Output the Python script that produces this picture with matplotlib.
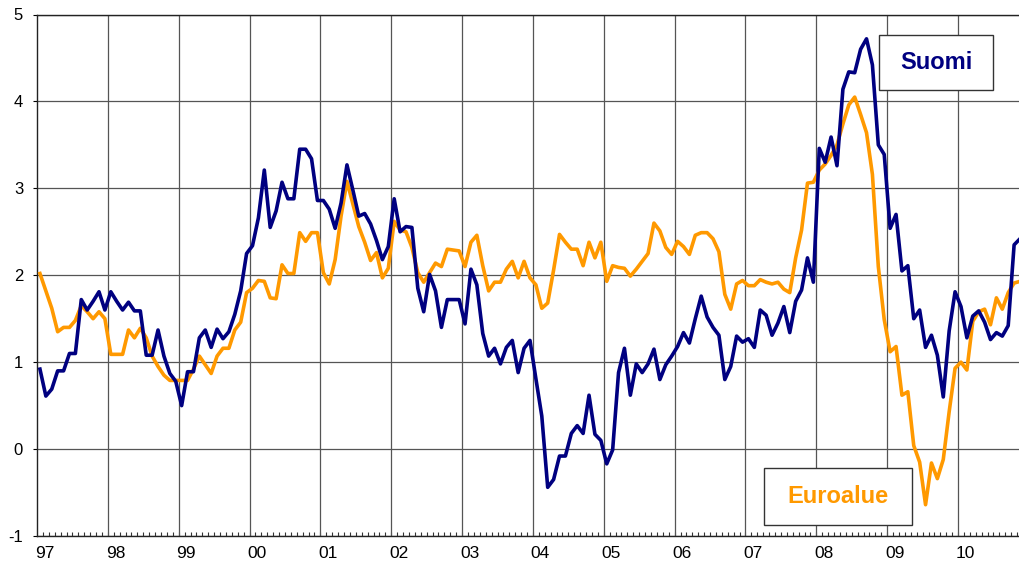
import matplotlib
matplotlib.use("Agg")
import matplotlib.pyplot as plt
import numpy as np
from matplotlib.patches import Rectangle

plt.rcParams["font.family"] = ["Liberation Sans", "DejaVu Sans"]
plt.rcParams["axes.unicode_minus"] = False

# monthly values, Jan 1997 ->
years = ["97", "98", "99", "00", "01", "02", "03", "04", "05", "06", "07", "08", "09", "10"]

suomi = [
    0.92, 0.61, 0.69, 0.90, 0.90, 1.10, 1.10, 1.72, 1.60, 1.70, 1.81, 1.60,
    1.81, 1.70, 1.60, 1.69, 1.59, 1.59, 1.08, 1.08, 1.37, 1.07, 0.87, 0.78,
    0.50, 0.89, 0.89, 1.28, 1.37, 1.17, 1.38, 1.27, 1.35, 1.55, 1.82, 2.25,
    2.34, 2.66, 3.21, 2.55, 2.74, 3.07, 2.88, 2.88, 3.45, 3.45, 3.34, 2.86,
    2.86, 2.76, 2.54, 2.83, 3.27, 2.98, 2.68, 2.71, 2.59, 2.40, 2.18, 2.33,
    2.88, 2.50, 2.56, 2.55, 1.85, 1.58, 2.01, 1.82, 1.40, 1.72, 1.72, 1.72,
    1.44, 2.07, 1.89, 1.33, 1.07, 1.16, 0.98, 1.17, 1.25, 0.88, 1.16, 1.25,
    0.81, 0.38, -0.44, -0.35, -0.08, -0.08, 0.18, 0.27, 0.18, 0.62, 0.17, 0.10,
    -0.17, -0.01, 0.88, 1.16, 0.62, 0.98, 0.88, 0.98, 1.15, 0.80, 0.97, 1.07,
    1.18, 1.34, 1.22, 1.50, 1.76, 1.52, 1.40, 1.31, 0.80, 0.95, 1.30, 1.23,
    1.27, 1.17, 1.60, 1.54, 1.31, 1.45, 1.64, 1.34, 1.70, 1.83, 2.20, 1.92,
    3.46, 3.30, 3.59, 3.26, 4.14, 4.34, 4.33, 4.60, 4.72, 4.42, 3.50, 3.39,
    2.54, 2.70, 2.05, 2.11, 1.50, 1.60, 1.17, 1.31, 1.08, 0.60, 1.36, 1.81,
    1.64, 1.28, 1.53, 1.59, 1.46, 1.26, 1.34, 1.30, 1.42, 2.35, 2.42,
]

euroalue = [
    2.02, 1.82, 1.62, 1.35, 1.40, 1.40, 1.48, 1.65, 1.58, 1.50, 1.58, 1.50,
    1.09, 1.09, 1.09, 1.37, 1.28, 1.39, 1.28, 1.07, 0.95, 0.85, 0.79, 0.79,
    0.79, 0.79, 0.92, 1.07, 0.97, 0.87, 1.07, 1.16, 1.16, 1.37, 1.46, 1.80,
    1.85, 1.94, 1.93, 1.74, 1.73, 2.12, 2.02, 2.02, 2.49, 2.39, 2.49, 2.49,
    2.03, 1.90, 2.18, 2.68, 3.08, 2.82, 2.56, 2.38, 2.17, 2.26, 1.97, 2.08,
    2.62, 2.52, 2.50, 2.32, 2.03, 1.92, 2.03, 2.14, 2.10, 2.30, 2.29, 2.28,
    2.10, 2.38, 2.46, 2.11, 1.82, 1.92, 1.92, 2.07, 2.16, 1.97, 2.16, 1.97,
    1.89, 1.62, 1.68, 2.06, 2.47, 2.38, 2.30, 2.30, 2.11, 2.38, 2.20, 2.38,
    1.93, 2.11, 2.09, 2.08, 1.99, 2.07, 2.16, 2.25, 2.60, 2.51, 2.32, 2.24,
    2.39, 2.33, 2.24, 2.46, 2.49, 2.49, 2.42, 2.27, 1.78, 1.61, 1.90, 1.94,
    1.88, 1.88, 1.95, 1.92, 1.90, 1.92, 1.84, 1.80, 2.20, 2.52, 3.06, 3.07,
    3.21, 3.28, 3.38, 3.50, 3.74, 3.96, 4.05, 3.85, 3.64, 3.16, 2.10, 1.49,
    1.12, 1.18, 0.62, 0.66, 0.04, -0.15, -0.64, -0.16, -0.34, -0.12, 0.43, 0.93,
    1.00, 0.91, 1.47, 1.58, 1.61, 1.43, 1.74, 1.61, 1.80, 1.91, 1.93,
]

NAVY = "#000080"
ORANGE = "#FF9900"
GRID = "#555555"

W, H = 1019, 573
fig = plt.figure(figsize=(W / 100, H / 100), dpi=100)
# plot area in pixels: left 37, top 14.5, bottom 536, runs off the right edge
ax = fig.add_axes([37 / W, 1 - 536 / H, 1 - 37 / W, (536 - 14.5) / H])

months = np.arange(len(suomi)) + 0.5
ax.plot(np.arange(len(euroalue)) + 0.5, euroalue, color=ORANGE, lw=2.6, zorder=3)
ax.plot(months, suomi, color=NAVY, lw=2.6, zorder=4)

ax.set_xlim(0, (W - 37) / 5.904)
ax.set_ylim(-1, 5)
ax.set_yticks(range(-1, 6))
ax.yaxis.grid(True, color=GRID, lw=0.9)
ax.set_axisbelow(True)
for k in range(1, len(years)):
    ax.axvline(12 * k, color=GRID, lw=0.9, zorder=1)

ax.set_xticks([12 * k + 1.27 for k in range(len(years))])
ax.set_xticklabels(years)
ax.set_xticks(np.arange(1, len(suomi)), minor=True)
ax.tick_params(axis="x", which="major", length=0, pad=7, labelsize=12.5)
ax.tick_params(axis="x", which="minor", direction="in", length=3, width=0.8, color="#333333")
ax.tick_params(axis="y", length=3, width=0.8, pad=7, labelsize=12)

ax.spines["right"].set_visible(False)
for side in ["left", "bottom", "top"]:
    ax.spines[side].set_color("#222222")
    ax.spines[side].set_linewidth(1.0)

# label boxes
ax.add_patch(Rectangle((0.8574, 0.8552), 0.1161, 0.1055, transform=ax.transAxes,
                       facecolor="white", edgecolor="#333333", lw=1.0, zorder=5))
ax.text(0.9155, 0.907, "Suomi", transform=ax.transAxes, ha="center", va="center",
        color=NAVY, fontsize=17, fontweight="bold", zorder=6)
ax.add_patch(Rectangle((0.7403, 0.0211), 0.1507, 0.1093, transform=ax.transAxes,
                       facecolor="white", edgecolor="#333333", lw=1.0, zorder=5))
ax.text(0.8157, 0.0767, "Euroalue", transform=ax.transAxes, ha="center", va="center",
        color=ORANGE, fontsize=17, fontweight="bold", zorder=6)

fig.savefig("out.png", dpi=100)
